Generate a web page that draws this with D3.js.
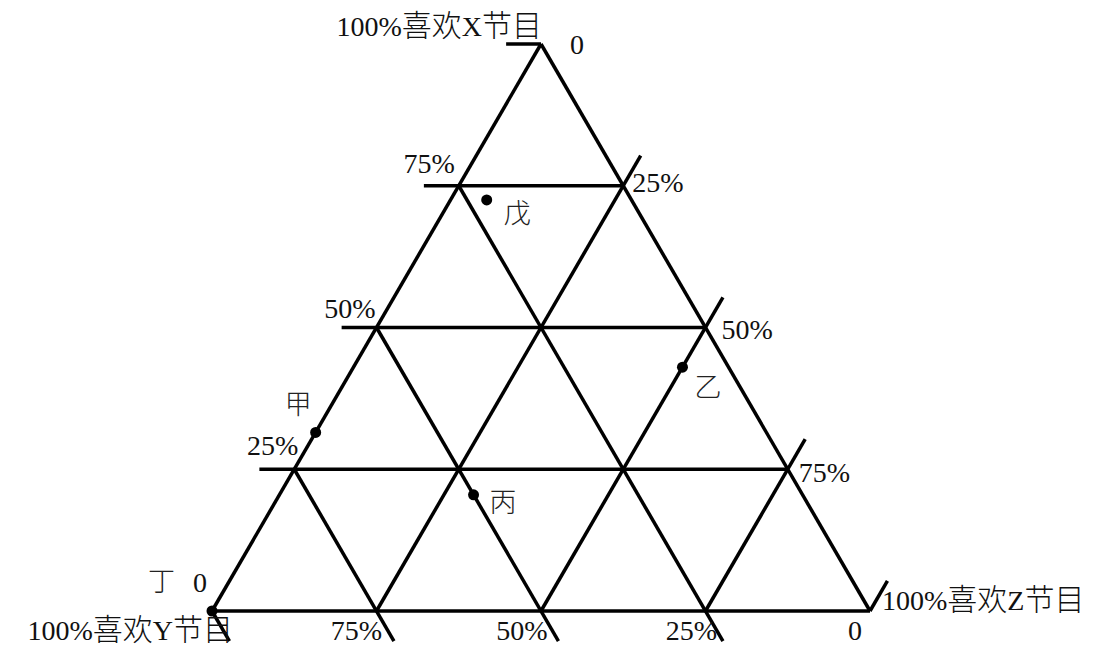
<!DOCTYPE html>
<html>
<head>
<meta charset="utf-8">
<script src="https://cdn.jsdelivr.net/npm/d3@7"></script>
<style>
  html, body { margin: 0; padding: 0; background: #fff; }
  svg text { font-family: "Liberation Serif", "Times New Roman", "Noto Sans CJK SC", serif; fill: #111; }
</style>
</head>
<body>
<svg id="chart" width="1095" height="649"></svg>
<script>
// ---------- data ----------
const gridLevels = [0, 0.25, 0.5, 0.75, 1];
const xLabels = ["0", "25%", "50%", "75%", "100%喜欢X节目"];   // X share, left side
const zLabels = ["0", "25%", "50%", "75%", "100%喜欢Z节目"];   // Z share, right side
const yLabels = ["0", "25%", "50%", "75%", "100%喜欢Y节目"];   // Y share, bottom
const pointNames = ["甲", "乙", "丙", "丁", "戊"];
const xShare = [0.315, 0.43, 0.205, 0, 0.725];
const yShare = [0.685, 0.07, 0.50, 1, 0.22];
const zShare = [0, 0.50, 0.295, 0, 0.055];

// ---------- scales ----------
const svg = d3.select("#chart");
const hScale = d3.scaleLinear().domain([0, 1]).range([212, 870]);  // u = Z + X/2
const vScale = d3.scaleLinear().domain([0, 1]).range([611, 44]);   // X share
const px = (X, Y, Z) => [hScale(Z + X / 2), vScale(X)];
const ext = 0.053;

// ---------- grid lines ----------
const segs = [];
gridLevels.forEach(t => {
  if (t > 0) segs.push([px(t, 1 - t + ext, -ext), px(t, 0, 1 - t)]);
  else segs.push([px(0, 1, 0), px(0, 0, 1)]);
  if (t > 0) segs.push([px(0, 1 - t, t), px(1 - t + ext, -ext, t)]);
  else segs.push([px(0, 1, 0), px(1, 0, 0)]);
  if (t > 0) segs.push([px(1 - t, t, 0), px(-ext, t, 1 - t + ext)]);
  else segs.push([px(1, 0, 0), px(0, 0, 1)]);
});
svg.append("g").selectAll("line").data(segs).join("line")
  .attr("x1", d => d[0][0]).attr("y1", d => d[0][1])
  .attr("x2", d => d[1][0]).attr("y2", d => d[1][1])
  .attr("stroke", "#000").attr("stroke-width", 3.5).attr("stroke-linecap", "butt");

// ---------- text helper (bigger CJK glyphs) ----------
function addText(g, str, x, y, anchor, size) {
  const t = g.append("text").attr("x", x).attr("y", y)
    .attr("text-anchor", anchor).attr("font-size", size);
  const parts = str.match(/[\u4e00-\u9fff]+|[^\u4e00-\u9fff]+/g);
  parts.forEach(p => {
    const cjk = /[\u4e00-\u9fff]/.test(p);
    t.append("tspan").text(p)
      .attr("font-size", cjk ? size + 2 : size)
      .style("font-family", cjk ? "'Noto Sans CJK SC', sans-serif" : null)
      .style("font-weight", cjk ? 300 : null);
  });
  return t;
}

const lg = svg.append("g");
const FS = 28;
const xNudge = [[-5, -19], [4, -14], [-1, -10], [-4, -13], [1, -8]];
gridLevels.forEach((t, i) => {
  const p = px(t, 1 - t, 0);
  addText(lg, xLabels[i], p[0] + xNudge[i][0], p[1] + xNudge[i][1], "end", FS);
});
const zNudge = [[29, 10], [9, 6], [16, 11], [11, 13], [12, -1]];
gridLevels.forEach((t, i) => {
  const p = px(1 - t, 0, t);
  addText(lg, zLabels[i], p[0] + zNudge[i][0], p[1] + zNudge[i][1], "start", FS);
});
const yNudge = [[-15, 29], [-14, 29], [-19, 29], [-20, 29], [21, 29]];
gridLevels.forEach((t, i) => {
  const p = px(0, t, 1 - t);
  addText(lg, yLabels[i], p[0] + yNudge[i][0], p[1] + yNudge[i][1], i === 4 ? "end" : "middle", FS);
});

// ---------- points ----------
const pts = pointNames.map((n, i) => ({ name: n, pos: px(xShare[i], yShare[i], zShare[i]) }));
svg.append("g").selectAll("circle").data(pts).join("circle")
  .attr("cx", d => d.pos[0]).attr("cy", d => d.pos[1]).attr("r", 5.5).attr("fill", "#000");
const pNudge = { "甲": [-31, -18], "乙": [12, 30], "丙": [16, 17], "丁": [-64, -20], "戊": [17, 23] };
svg.append("g").selectAll("text").data(pts).join("text")
  .attr("x", d => d.pos[0] + pNudge[d.name][0])
  .attr("y", d => d.pos[1] + pNudge[d.name][1])
  .attr("font-size", 27)
  .style("font-family", "'Noto Sans CJK SC', sans-serif")
  .style("font-weight", 300)
  .style("fill", "#222")
  .text(d => d.name);
</script>
</body>
</html>
